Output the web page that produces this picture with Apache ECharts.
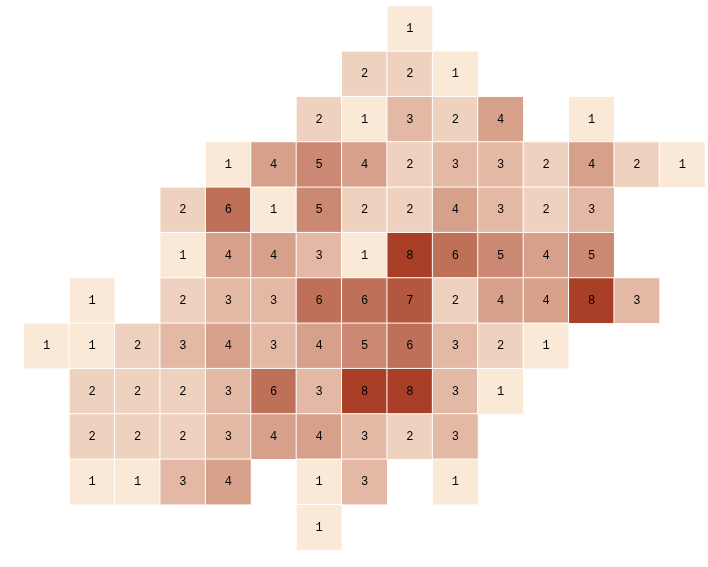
<!DOCTYPE html>
<html>
<head>
<meta charset="utf-8">
<script src="https://cdn.jsdelivr.net/npm/echarts@6/dist/echarts.min.js"></script>
<style>html,body{margin:0;padding:0;background:#fff;}#main{width:708px;height:567px;}</style>
</head>
<body>
<div id="main"></div>
<script>
// column and row categories
const xCats = ['0','1','2','3','4','5','6','7','8','9','10','11','12','13','14'];
const yCats = ['0','1','2','3','4','5','6','7','8','9','10','11'];
// values per row, top to bottom (null = empty cell)
const _ = null;
const row0  = [_,_,_,_,_,_,_,_,1,_,_,_,_,_,_];
const row1  = [_,_,_,_,_,_,_,2,2,1,_,_,_,_,_];
const row2  = [_,_,_,_,_,_,2,1,3,2,4,_,1,_,_];
const row3  = [_,_,_,_,1,4,5,4,2,3,3,2,4,2,1];
const row4  = [_,_,_,2,6,1,5,2,2,4,3,2,3,_,_];
const row5  = [_,_,_,1,4,4,3,1,8,6,5,4,5,_,_];
const row6  = [_,1,_,2,3,3,6,6,7,2,4,4,8,3,_];
const row7  = [1,1,2,3,4,3,4,5,6,3,2,1,_,_,_];
const row8  = [_,2,2,2,3,6,3,8,8,3,1,_,_,_,_];
const row9  = [_,2,2,2,3,4,4,3,2,3,_,_,_,_,_];
const row10 = [_,1,1,3,4,_,1,3,_,1,_,_,_,_,_];
const row11 = [_,_,_,_,_,_,1,_,_,_,_,_,_,_,_];
const rows = [row0,row1,row2,row3,row4,row5,row6,row7,row8,row9,row10,row11];

const data = [];
rows.forEach((r, yi) => r.forEach((v, xi) => { if (v !== null) data.push([xi, yi, v]); }));

const chart = echarts.init(document.getElementById('main'));
chart.setOption({
  animation: false,
  grid: { left: 24, right: 3, top: 6, bottom: 17 },
  xAxis: { type: 'category', data: xCats, show: false },
  yAxis: { type: 'category', data: yCats, inverse: true, show: false },
  visualMap: {
    show: false, min: 1, max: 8, calculable: false,
    inRange: { color: ['#fae9d7', '#a83f26'] }
  },
  series: [{
    type: 'heatmap',
    data: data,
    label: { show: true, color: '#000', fontFamily: 'Liberation Mono', fontSize: 12 },
    itemStyle: { borderColor: '#fff', borderWidth: 1 },
    emphasis: { disabled: true }
  }]
});
</script>
</body>
</html>
